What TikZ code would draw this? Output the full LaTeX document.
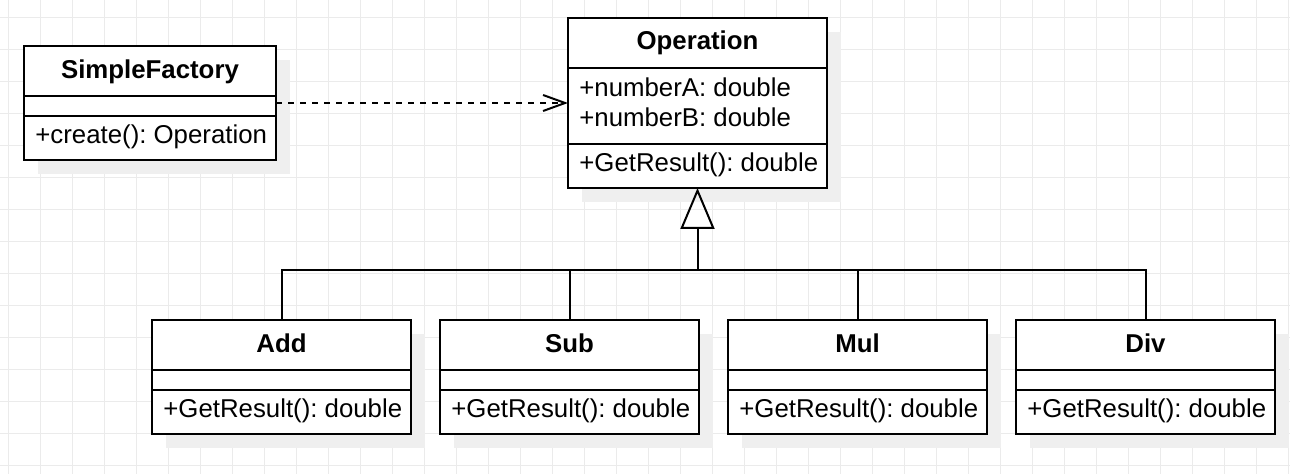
\documentclass[tikz,border=0pt]{standalone}
\usepackage{fontspec}
\setmainfont{Liberation Sans}
\usetikzlibrary{arrows.meta,shadows}
\definecolor{gridgray}{HTML}{EBEBEB}
\definecolor{shadowgray}{HTML}{EFEFEF}
\frenchspacing
\begin{document}
\begin{tikzpicture}[
  x=0.5pt, y=-0.5pt,
  font=\fontsize{12.9}{15}\selectfont,
  umlclass/.style={draw=black, line width=1pt, fill=white, anchor=north west,
    inner sep=0pt, outer sep=0pt,
    drop shadow={shadow xshift=6.8pt, shadow yshift=-6.8pt, fill=shadowgray, opacity=1}},
  classname/.style={font=\fontsize{12.9}{15}\selectfont\bfseries, anchor=base, inner sep=0pt},
  member/.style={anchor=base west, inner sep=0pt},
  divider/.style={line width=1pt},
  link/.style={line width=1pt},
]
% canvas and grid
\useasboundingbox (0,0) rectangle (1290,474);
\fill[white] (0,0) rectangle (1290,474);
\foreach \gx in {8,40,...,1288} \draw[gridgray, line width=0.5pt] (\gx,0) -- (\gx,474);
\foreach \gy in {18,50,...,466} \draw[gridgray, line width=0.5pt] (0,\gy) -- (1290,\gy);

% SimpleFactory
\node[umlclass, minimum width=126pt, minimum height=57pt] (sf) at (24,46) {};
\draw[divider] (24,96) -- (276,96);
\draw[divider] (24,116) -- (276,116);
\node[classname] (sfname) at (150,79) {SimpleFactory};
\node[member] (sfop) at (35,144) {+create(): Operation};

% Operation
\node[umlclass, minimum width=129.5pt, minimum height=85pt] (op) at (568,18) {};
\draw[divider] (568,68) -- (827,68);
\draw[divider] (568,144) -- (827,144);
\node[classname] (opname) at (697.5,50) {Operation};
\node[member] (opa) at (579,97) {+numberA: double};
\node[member] (opb) at (579,127) {+numberB: double};
\node[member] (opm) at (579,172) {+GetResult(): double};

% concrete operations
\foreach \nm/\lbl/\lx in {add/Add/152, sub/Sub/440, mul/Mul/728, div/Div/1016} {
  \node[umlclass, minimum width=129.5pt, minimum height=57pt] (\nm) at (\lx,320) {};
  \draw[divider] (\lx,370) -- ++(259,0);
  \draw[divider] (\lx,390) -- ++(259,0);
  \node[classname] (\nm name) at (\lx+129.5,353) {\lbl};
  \node[member] (\nm op) at (\lx+11,418) {+GetResult(): double};
}

% dependency
\draw[link, dash pattern=on 3pt off 3pt,
  -{Straight Barb[length=11pt, width=8pt, line width=1pt]}]
  (sf.east) -- (op.west |- sf.east);

% generalization
\coordinate (bus) at (697.5,270);
\draw[link] (add.north) |- (bus) -| (div.north);
\draw[link] (sub.north) -- (sub.north |- bus);
\draw[link] (mul.north) -- (mul.north |- bus);
\draw[link, -{Triangle[open, length=20.5pt, width=17pt, line width=1pt]}]
  (bus) -- (op.south);
\end{tikzpicture}
\end{document}
